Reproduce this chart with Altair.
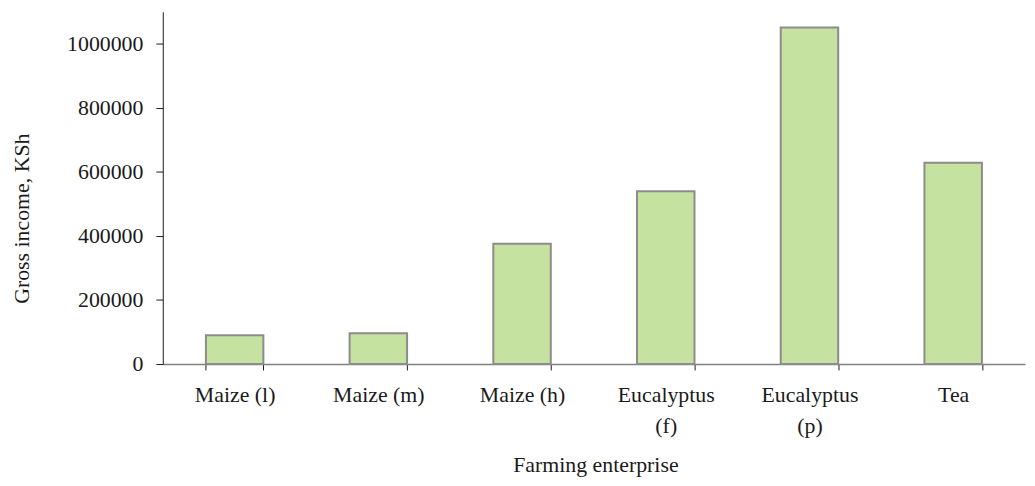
import altair as alt
import pandas as pd

categories = ["Maize (l)", "Maize (m)", "Maize (h)", "Eucalyptus (f)", "Eucalyptus (p)", "Tea"]
gross_income = [90000, 96000, 376000, 540000, 1051000, 629000]
y_ticks = [0, 200000, 400000, 600000, 800000, 1000000]

df = pd.DataFrame({"enterprise": categories, "income": gross_income})

FONT = "Liberation Serif"
FS = 22

chart = alt.Chart(df).mark_bar(
    color="#c6e2a0", stroke="#8c8c8c", strokeWidth=2
).encode(
    x=alt.X(
        "enterprise:N",
        sort=categories,
        scale=alt.Scale(paddingInner=0.6, paddingOuter=0.3),
        axis=alt.Axis(
            title="Farming enterprise",
            labelAngle=0,
            labelExpr="indexof(datum.label, 'Eucalyptus') == 0 ? split(datum.label, ' ') : datum.label",
            labelLineHeight=31,
            labelFont=FONT,
            labelFontSize=FS,
            labelColor="#1a1a1a",
            labelPadding=15,
            labelBaseline="top",
            tickBand="extent",
            tickSize=6,
            tickColor="#1a1a1a",
            domainColor="#808080",
            domainWidth=1.5,
            titleFont=FONT,
            titleFontSize=FS,
            titleFontWeight="normal",
            titleColor="#1a1a1a",
            titleX=436,
            titleY=108,
            titleBaseline="alphabetic",
            titleAlign="center",
        ),
    ),
    y=alt.Y(
        "income:Q",
        scale=alt.Scale(domain=[0, 1100000], nice=False),
        axis=alt.Axis(
            title="Gross income, KSh",
            values=y_ticks,
            format="d",
            grid=False,
            labelFont=FONT,
            labelFontSize=FS,
            labelColor="#1a1a1a",
            labelPadding=13,
            tickSize=7,
            tickColor="#1a1a1a",
            domainColor="#1a1a1a",
            titleFont=FONT,
            titleFontSize=FS,
            titleFontWeight="normal",
            titleColor="#1a1a1a",
            titleX=-142,
            titleY=208,
            titleAngle=270,
            titleBaseline="middle",
            titleAlign="center",
        ),
    ),
).properties(
    width=869,
    height=355,
    autosize=alt.AutoSizeParams(type="none"),
    padding={"left": 156, "top": 2, "right": 2, "bottom": 113},
).configure(
    background="white"
).configure_view(
    strokeWidth=0
)

chart.save("out.html", embed_options={"renderer": "svg", "actions": False})
